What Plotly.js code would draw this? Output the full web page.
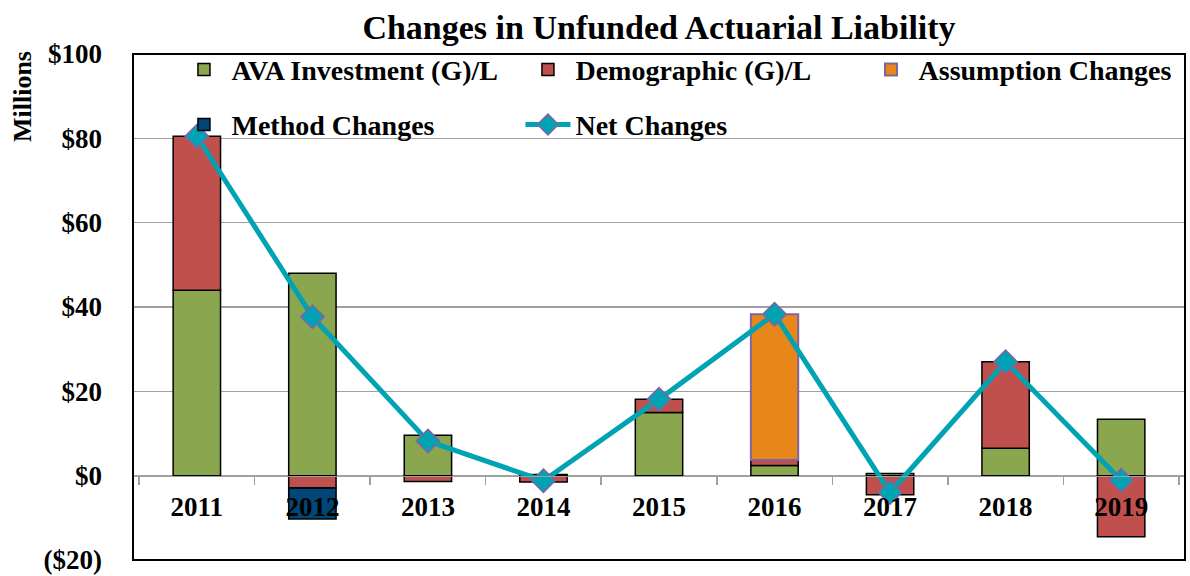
<!DOCTYPE html>
<html>
<head>
<meta charset="utf-8">
<script src="https://cdn.plot.ly/plotly-3.0.1.min.js"></script>
<style>
  html, body { margin: 0; padding: 0; background: #fff; }
  #chart { width: 1190px; height: 576px; }
</style>
</head>
<body>
<div id="chart"></div>
<script>
const years = ['2011', '2012', '2013', '2014', '2015', '2016', '2017', '2018', '2019'];

// $ millions (null = no bar that year)
const avaInvestment = [44.0, 48.0, 9.6, 0.3, 15.0, 2.4, 0.5, 6.5, 13.4];
const demographic   = [36.5, -2.9, -1.4, -1.5, 3.1, 1.3, -4.5, 20.5, -14.5];
const assumption    = [null, null, null, null, null, 34.6, null, null, null];
const method        = [null, -7.4, null, null, null, null, null, null, null];
const netChanges    = [80.5, 37.7, 8.2, -1.2, 18.1, 38.3, -4.0, 27.0, -1.1];

const yTickVals = [-20, 0, 20, 40, 60, 80, 100];
const yTickText = ['($20)', '$0', '$20', '$40', '$60', '$80', '$100'];

const SERIF = 'Liberation Serif, Times New Roman, serif';

const barOutline = { color: '#000000', width: 1.5 };

const traces = [
    {
        x: years, y: avaInvestment, type: 'bar', name: 'AVA Investment (G)/L',
        marker: { color: '#8aa64e', line: barOutline },
        legend: 'legend'
    },
    {
        x: years, y: demographic, type: 'bar', name: 'Demographic (G)/L',
        marker: { color: '#c0504d', line: barOutline },
        legend: 'legend'
    },
    {
        x: years, y: assumption, type: 'bar', name: 'Assumption Changes',
        marker: { color: '#e8861a', line: { color: '#8064a2', width: 2 } },
        legend: 'legend3'
    },
    {
        x: years, y: method, type: 'bar', name: 'Method Changes',
        marker: { color: '#004777', line: barOutline },
        legend: 'legend2'
    },
    {
        x: years, y: netChanges, type: 'scatter', mode: 'lines+markers', name: 'Net Changes',
        line: { color: '#00a3b3', width: 5 },
        marker: { symbol: 'diamond', size: 18, color: '#00a3b3', line: { color: '#8064a2', width: 1.5 } },
        legend: 'legend2'
    }
];

const legendCommon = {
    orientation: 'h',
    xref: 'paper', yref: 'paper',
    x: 0.0413, xanchor: 'left',
    yanchor: 'middle',
    bgcolor: 'rgba(0,0,0,0)',
    entrywidth: 284, entrywidthmode: 'pixels',
    itemwidth: 45,
    traceorder: 'normal',
    font: { family: SERIF, size: 28, color: '#000', weight: 'bold' }
};

const layout = {
    width: 1190,
    height: 576,
    margin: { l: 133, r: 5, t: 54, b: 16, autoexpand: false },
    paper_bgcolor: '#ffffff',
    plot_bgcolor: '#ffffff',
    font: { family: SERIF, color: '#000' },
    barmode: 'relative',
    bargap: 0.59,
    showlegend: true,
    title: {
        text: 'Changes in Unfunded Actuarial Liability',
        font: { family: SERIF, size: 34, color: '#000', weight: 'bold' },
        x: 0.5, xref: 'paper', xanchor: 'center',
        y: 0.953, yref: 'container', yanchor: 'middle'
    },
    xaxis: {
        type: 'category',
        anchor: 'free',
        position: 1 / 6,
        showgrid: false,
        showline: true,
        linecolor: '#a0a0a0',
        linewidth: 1.5,
        ticks: 'outside',
        tickson: 'boundaries',
        ticklen: 8,
        tickcolor: '#a0a0a0',
        tickwidth: 1.5,
        ticklabelstandoff: 6,
        tickfont: { family: SERIF, size: 27, color: '#000', weight: 'bold' }
    },
    yaxis: {
        range: [-20, 100],
        tickmode: 'array',
        tickvals: yTickVals,
        ticktext: yTickText,
        showgrid: true,
        gridcolor: '#a0a0a0',
        gridwidth: 1.5,
        zeroline: false,
        showline: false,
        ticks: '',
        ticklabelstandoff: 30,
        tickfont: { family: SERIF, size: 27, color: '#000', weight: 'bold' }
    },
    legend: { ...legendCommon, y: 0.969 },
    legend2: { ...legendCommon, y: 0.860 },
    legend3: { ...legendCommon, x: 0.6944, y: 0.969 },
    annotations: [
        {
            text: 'Millions',
            xref: 'paper', yref: 'paper',
            x: -0.1055, y: 0.915,
            xanchor: 'center', yanchor: 'middle',
            textangle: -90,
            showarrow: false,
            font: { family: SERIF, size: 26, color: '#000', weight: 'bold' }
        }
    ],
    shapes: [
        {
            type: 'rect', xref: 'paper', yref: 'paper',
            x0: 0, x1: 1, y0: 0, y1: 1,
            line: { color: '#000000', width: 2 },
            layer: 'above'
        }
    ]
};

Plotly.newPlot('chart', traces, layout, { displayModeBar: false, staticPlot: true });
</script>
</body>
</html>
